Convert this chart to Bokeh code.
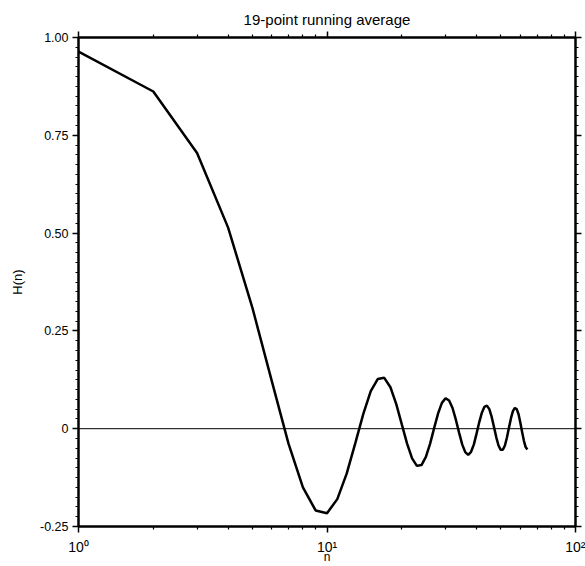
from bokeh.plotting import figure
from bokeh.models import (Range1d, LinearAxis, LogAxis, FixedTicker, Span,
                          CustomJSTickFormatter)
from bokeh.embed import file_html
from bokeh.resources import INLINE

# data
n = list(range(1, 65))
H = [0.964, 0.862, 0.705, 0.514, 0.311, 0.121, -0.038, -0.150, -0.209, -0.216,
     -0.180, -0.115, -0.037, 0.038, 0.096, 0.127, 0.130, 0.106, 0.063, 0.011,
     -0.038, -0.076, -0.095, -0.093, -0.072, -0.038, 0.002, 0.039, 0.066, 0.078,
     0.072, 0.053, 0.023, -0.010, -0.040, -0.060, -0.067, -0.059, -0.040, -0.012,
     0.017, 0.041, 0.056, 0.059, 0.050, 0.030, 0.004, -0.022, -0.043, -0.054,
     -0.054, -0.043, -0.022, 0.003, 0.027, 0.045, 0.053, 0.050, 0.037, 0.015,
     -0.009, -0.031, -0.047, -0.053]

y_ticks = [-0.25, 0, 0.25, 0.5, 0.75, 1.0]
y_tick_labels = ["-0.25", "0", "0.25", "0.50", "0.75", "1.00"]
x_ticks = [1, 10, 100]
x_tick_labels = ["10\u2070", "10\u00b9", "10\u00b2"]
title_text = "19-point running average"
x_label = "n"
y_label = "H(n)"

FONT = "Liberation Sans"

p = figure(width=585, height=566, x_axis_type="log",
           x_range=Range1d(1, 100), y_range=Range1d(-0.25, 1.0),
           output_backend="svg", toolbar_location=None,
           min_border_left=78, min_border_right=10,
           min_border_top=37, min_border_bottom=40,
           title=title_text)
p.grid.visible = False
p.outline_line_color = "black"
p.outline_line_width = 2
p.background_fill_color = "white"
p.border_fill_color = "white"

p.title.text_font = FONT
p.title.text_font_size = "15px"
p.title.text_font_style = "normal"
p.title.text_color = "black"
p.title.align = "center"
p.title.standoff = 8

bottom = p.below[0]
left = p.left[0]

x_minor = [m * d for d in (1, 10) for m in range(2, 10)]
y_minor = [round(-0.25 + 0.025 * i, 3) for i in range(51)]

yt = FixedTicker(ticks=y_ticks, minor_ticks=y_minor)
xt = FixedTicker(ticks=x_ticks, minor_ticks=x_minor)

blank = CustomJSTickFormatter(code="return ''")
right = LinearAxis(formatter=blank)
top = LogAxis(formatter=blank)
p.add_layout(right, "right")
p.add_layout(top, "above")

for ax in [bottom, top]:
    ax.ticker = xt
for ax in [left, right]:
    ax.ticker = yt

for ax in [bottom, left, right, top]:
    ax.axis_line_width = 2
    ax.axis_line_color = "black"
    ax.major_tick_in = 0
    ax.major_tick_out = 6
    ax.minor_tick_in = 0
    ax.minor_tick_out = 3
    ax.major_tick_line_width = 1.5
    ax.minor_tick_line_width = 1.2
    ax.major_tick_line_color = "black"
    ax.minor_tick_line_color = "black"
    ax.major_label_text_font = FONT
    ax.major_label_text_font_size = "12.5px"
    ax.major_label_text_color = "black"

for ax in [right, top]:
    ax.major_label_standoff = 0

left.major_label_overrides = {t: s for t, s in zip(y_ticks, y_tick_labels)}
left.major_label_standoff = 4
left.axis_label = y_label
left.axis_label_text_font = FONT
left.axis_label_text_font_size = "13px"
left.axis_label_text_font_style = "normal"
left.axis_label_text_color = "black"
left.axis_label_standoff = 12

bottom.formatter = CustomJSTickFormatter(
    args=dict(xvals=x_ticks, xlabels=x_tick_labels),
    code="""
    for (let i = 0; i < xvals.length; i++) {
        if (Math.abs(tick - xvals[i]) < 1e-9 * xvals[i]) return xlabels[i];
    }
    return '';
    """)
bottom.major_label_standoff = 6
bottom.major_label_text_font_size = "14px"
bottom.axis_label = x_label
bottom.axis_label_text_font = FONT
bottom.axis_label_text_font_size = "12px"
bottom.axis_label_text_font_style = "normal"
bottom.axis_label_text_color = "black"
bottom.axis_label_standoff = -8

p.add_layout(Span(location=0, dimension="width", line_color="black", line_width=1))

p.line(n, H, line_color="black", line_width=2.5)

open("out.html", "w").write(file_html(p, INLINE))
